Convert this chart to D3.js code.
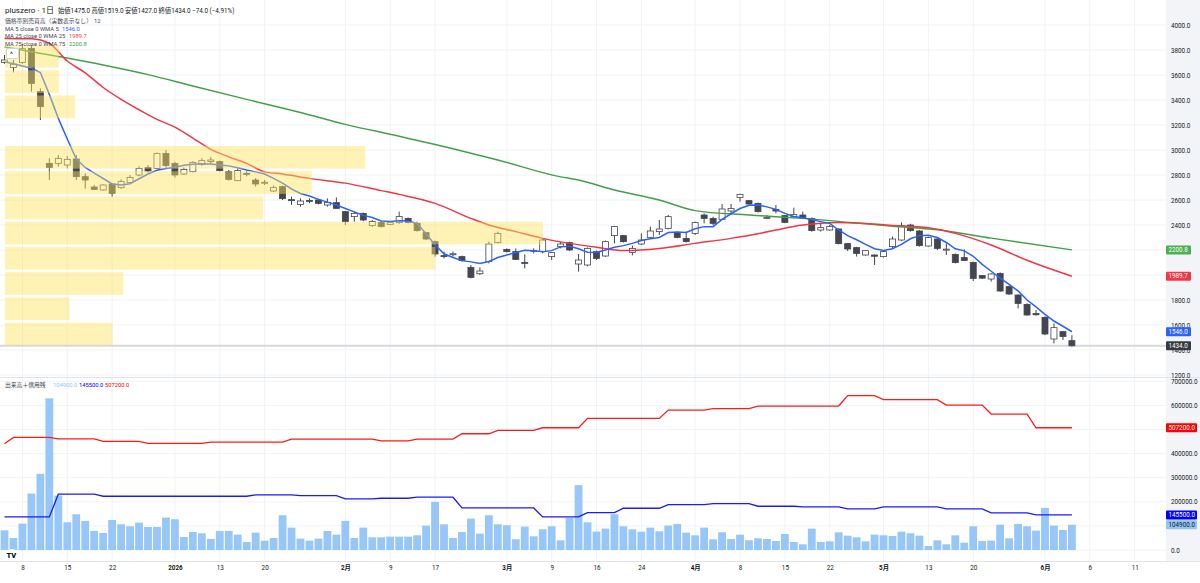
<!DOCTYPE html>
<html>
<head>
<meta charset="utf-8">
<script src="https://cdn.jsdelivr.net/npm/d3@7"></script>
<style>
  html, body { margin: 0; padding: 0; background: #fff; }
  svg { display: block; font-family: Roboto, "Noto Sans CJK JP", sans-serif; }
</style>
</head>
<body>
<div class="chart"></div>
<script>
// daily candles, Dec 4 -> Jun 4
const opens = [3700,3660,3700,3813,3467,2893,2893,2880,2928,2787,2704,2680,2728,2699,2741,2800,2859,2853,2973,2893,
  2808,2827,2885,2907,2907,2827,2755,2813,2760,2735,2672,2707,2603,2565,2597,2600,2560,2579,2507,2467,
  2493,2395,2421,2405,2419,2453,2413,2339,2267,2155,2165,2147,2061,2010,2107,2259,2205,2187,2101,2192,
  2187,2147,2227,2259,2088,2080,2187,2152,2315,2315,2181,2248,2301,2347,2373,2339,2293,2333,2480,2453,
  2445,2512,2621,2595,2573,2455,2525,2475,2467,2480,2453,2360,2360,2368,2251,2219,2160,2160,2147,2227,
  2280,2400,2352,2232,2288,2203,2165,2139,2101,1995,1968,2013,1907,1840,1765,1693,1661,1488,1547,1475];
const highs = [3760,3720,3850,3840,3493,2933,2960,2950,2960,2813,2720,2725,2735,2765,2800,2870,2880,2980,3000,2905,
  2860,2910,2935,2945,2915,2840,2850,2830,2775,2760,2715,2715,2627,2613,2613,2610,2613,2620,2510,2507,
  2500,2440,2430,2430,2507,2460,2427,2345,2275,2187,2187,2155,2080,2061,2267,2347,2213,2213,2165,2213,
  2293,2185,2265,2267,2168,2220,2195,2275,2393,2320,2235,2333,2387,2440,2480,2347,2347,2427,2493,2467,
  2568,2568,2650,2600,2580,2480,2560,2480,2539,2507,2460,2413,2400,2373,2255,2225,2200,2165,2195,2307,
  2421,2410,2360,2307,2295,2253,2173,2205,2107,2000,2013,2020,1915,1845,1773,1720,1670,1613,1553,1519];
const lows = [3690,3621,3690,3467,3240,2760,2867,2853,2760,2690,2680,2675,2627,2690,2733,2790,2820,2845,2860,2780,
  2800,2820,2875,2890,2830,2755,2750,2790,2707,2720,2665,2600,2560,2547,2575,2565,2547,2530,2400,2427,
  2430,2385,2380,2400,2410,2413,2347,2280,2147,2133,2147,2107,1973,2000,2093,2253,2180,2120,2053,2173,
  2173,2120,2213,2192,2027,2070,2120,2145,2253,2260,2157,2240,2293,2320,2365,2293,2260,2320,2413,2400,
  2440,2493,2587,2560,2500,2447,2493,2415,2453,2447,2347,2347,2355,2245,2192,2147,2155,2080,2140,2213,
  2272,2347,2227,2227,2200,2160,2093,2113,1952,1968,1947,1865,1840,1733,1675,1675,1520,1453,1480,1427];
const closes = [3720,3686,3810,3533,3347,2861,2933,2925,2787,2760,2685,2720,2653,2747,2781,2853,2832,2973,2875,2800,
  2845,2901,2915,2920,2835,2765,2835,2805,2728,2742,2699,2611,2597,2592,2593,2573,2580,2533,2427,2493,
  2440,2428,2387,2421,2467,2421,2355,2288,2168,2150,2170,2115,1981,2032,2248,2333,2187,2125,2097,2197,
  2280,2179,2248,2200,2120,2213,2133,2267,2387,2267,2213,2280,2352,2368,2467,2301,2267,2419,2453,2413,
  2528,2533,2645,2568,2507,2460,2512,2421,2485,2453,2355,2379,2389,2251,2208,2173,2195,2150,2187,2288,
  2395,2355,2235,2299,2213,2207,2099,2117,1973,1975,2008,1872,1848,1773,1680,1682,1528,1579,1508,1434];

const volumes = [81800,49900,109500,234200,316000,629200,225900,115000,148300,120600,
  79000,70700,124700,106700,98400,113700,95600,95600,134400,127500,
  54100,74800,69300,45700,79000,79000,63800,33300,72100,38800,
  49900,144100,92900,47100,38800,47100,79000,63800,120600,49900,
  92900,52700,52700,55400,55400,55400,61000,101200,199600,106700,
  49900,74800,130300,67900,144100,106700,102600,44400,97000,56800,
  85900,98400,40200,133100,268900,115000,76200,88700,148300,98400,
  85900,76200,92900,77600,101200,108100,72100,61000,92900,44400,
  73500,45700,63800,40200,48500,45700,37400,66500,33300,23600,
  88700,33300,36000,73500,59600,52700,36000,63800,61000,58200,
  76200,69300,59600,16600,40200,23600,61000,30500,98400,37400,
  38800,105300,48500,108100,98400,80400,174600,101200,83200,104900];

// WMA 5 read per bar
const wma5 = [3705,3690,3672,3655,3620,3445,3253,3088,2928,2860,2815,2772,2728,2720,2730,2770,2808,2838,2852,2862,
  2878,2886,2890,2888,2880,2873,2858,2840,2825,2808,2773,2735,2688,2652,2632,2605,2583,2560,2532,2505,
  2477,2460,2432,2428,2433,2432,2412,2330,2240,2170,2140,2115,2105,2093,2108,2140,2160,2180,2197,2195,
  2187,2195,2225,2230,2210,2182,2180,2200,2222,2235,2253,2276,2290,2300,2340,2343,2340,2370,2387,2387,
  2445,2490,2532,2558,2560,2545,2525,2493,2468,2458,2443,2427,2413,2360,2315,2282,2245,2210,2197,2210,
  2245,2290,2315,2318,2300,2260,2210,2193,2150,2085,2030,1975,1925,1873,1800,1745,1685,1632,1590,1546];
// WMA 25 / WMA 75 read at sample bars
const wma25Idx = [0,3,5,7,9,11,13,15,17,19,21,23,25,27,29,31,34,38,42,44,48,52,54,57,60,63,66,69,73,77,81,84,86,89,93,99,103,106,110,114,119];
const wma25Val = [3893,3890,3853,3712,3617,3500,3405,3322,3245,3183,3095,3005,2945,2893,2825,2808,2773,2735,2675,2645,2573,2453,2400,2347,2293,2253,2222,2196,2212,2253,2293,2330,2360,2400,2421,2397,2378,2333,2240,2118,1990];
const wma75Idx = [0,6,11,16,21,27,33,38,44,50,55,62,64,68,73,77,83,89,99,104,110,119];
const wma75Val = [3824,3748,3680,3603,3512,3405,3300,3205,3110,3010,2920,2785,2760,2680,2600,2515,2480,2453,2390,2362,2295,2201];

// margin balances (weekly steps): bar index where value starts
const creditBuyIdx = [0,1,6,11,16,23,32,42,46,51,55,60,65,74,79,84,94,98,105,110,115];
const creditBuyVal = [440700,467100,461500,450500,442100,447700,460200,453200,460200,482300,496200,507200,546100,580700,586300,597400,640300,623700,601500,564100,507200];
const creditSellIdx = [0,6,11,28,33,38,42,46,51,60,65,69,74,79,84,89,94,98,105,110,115];
const creditSellVal = [137200,231500,223100,228600,225900,212100,214800,219000,174600,137200,155200,173300,188500,192700,181600,178800,170500,178800,170500,153800,145500];

// volume profile, 12 rows from top, relative volume
const profileVol = [10,10,13,0,67,57,48,100,80,22,12,20];

// tick labels hidden under the value tags are left out
const priceTicks = [1200,1400,1600,1800,2400,2600,2800,3000,3200,3400,3600,3800,4000];
const priceGrid = d3.range(1200, 4001, 200);
const volTicks = [0,200000,300000,400000,600000,700000];
const volGrid = d3.range(0, 700001, 100000);
const timeTickIdx = [2,7,12,19,24,29,38,43,48,56,61,66,71,77,82,87,92,98,103,108,116,121,126];
const timeTickLabels = ["8","15","22","2026","13","20","2月","9","17","3月","9","16","24","4月","8","15","22","5月","13","20","6月","6","11"];
const boldTicks = ["2026","2月","3月","4月","5月","6月"];

const W = 1200, H = 583, axisX = 1166;
const fs = 6.3;
const svg = d3.select(".chart").append("svg").attr("width", W).attr("height", H);

const x = d3.scaleLinear().domain([0, 119]).range([4.5, 1071.9]);
const y = d3.scaleLinear().domain([1200, 4000]).range([375, 25]);
const yv = d3.scaleLinear().domain([0, 700000]).range([550, 381.3]);
const idx = d3.range(opens.length);

// axis background
svg.append("rect").attr("x", axisX).attr("y", 0).attr("width", W - axisX).attr("height", 561).attr("fill", "#f3f4f7");

// grid
const grid = svg.append("g").attr("stroke", "#f0f2f6").attr("stroke-width", 1);
grid.selectAll(".vg").data(timeTickIdx).join("line")
  .attr("x1", d => x(d)).attr("x2", d => x(d)).attr("y1", 0).attr("y2", 561);
grid.selectAll(".pg").data(priceGrid).join("line")
  .attr("x1", 0).attr("x2", axisX).attr("y1", d => y(d)).attr("y2", d => y(d));
grid.selectAll(".vvg").data(volGrid).join("line")
  .attr("x1", 0).attr("x2", axisX).attr("y1", d => yv(d)).attr("y2", d => yv(d));

// pane separators
svg.append("line").attr("x1", 0).attr("x2", W).attr("y1", 377.5).attr("y2", 377.5).attr("stroke", "#e0e3eb");
svg.append("line").attr("x1", 0).attr("x2", W).attr("y1", 561.5).attr("y2", 561.5).attr("stroke", "#e0e3eb");

// last price line
svg.append("line").attr("x1", 0).attr("x2", axisX).attr("y1", y(1434)).attr("y2", y(1434))
  .attr("stroke", "#d6d8de").attr("stroke-width", 2);

// candles
const cg = svg.append("g");
cg.selectAll("line").data(idx).join("line")
  .attr("x1", i => x(i)).attr("x2", i => x(i))
  .attr("y1", i => y(highs[i])).attr("y2", i => y(lows[i]))
  .attr("stroke", "#434651").attr("stroke-width", 1);
cg.selectAll("rect").data(idx).join("rect")
  .attr("x", i => x(i) - 3).attr("width", 6)
  .attr("y", i => y(Math.max(opens[i], closes[i])))
  .attr("height", i => Math.max(1, Math.abs(y(opens[i]) - y(closes[i]))))
  .attr("fill", i => closes[i] >= opens[i] ? "#ffffff" : "#434651")
  .attr("stroke", "#434651").attr("stroke-width", 0.8);

// moving averages
const lineIdx = d3.line().x(d => x(d[0])).y(d => y(d[1]));
svg.append("path").datum(d3.zip(wma75Idx, wma75Val))
  .attr("d", lineIdx.curve(d3.curveMonotoneX)).attr("fill", "none").attr("stroke", "#43a047").attr("stroke-width", 1.5);
svg.append("path").datum(d3.zip(wma25Idx, wma25Val))
  .attr("d", lineIdx.curve(d3.curveMonotoneX)).attr("fill", "none").attr("stroke", "#f23645").attr("stroke-width", 1.5);
svg.append("path").datum(idx.map(i => [i, wma5[i]]))
  .attr("d", lineIdx.curve(d3.curveLinear)).attr("fill", "none").attr("stroke", "#2962ff").attr("stroke-width", 1.5);

// volume profile rows (drawn over candles)
const vpHigh = d3.max(highs), vpLow = d3.min(lows);
const rowH = (vpHigh - vpLow) / profileVol.length;
const vpW = d3.scaleLinear().domain([0, d3.max(profileVol)]).range([0, 538]);
svg.append("g").selectAll("rect").data(profileVol).join("rect")
  .attr("x", 5)
  .attr("y", (d, k) => y(vpHigh - k * rowH) + 1.3)
  .attr("width", d => vpW(d))
  .attr("height", (d, k) => y(vpHigh - (k + 1) * rowH) - y(vpHigh - k * rowH) - 2.6)
  .attr("fill", "rgba(255,226,90,0.45)");

// volume bars
svg.append("g").selectAll("rect").data(idx).join("rect")
  .attr("x", i => x(i) - 3.9).attr("width", 7.8)
  .attr("y", i => yv(volumes[i])).attr("height", i => 550 - yv(volumes[i]))
  .attr("fill", "#97c6f8");

// margin lines
const stepSeries = (starts, vals) => idx.map(i => [i, vals[d3.bisectRight(starts, i) - 1]]);
const lineV = d3.line().x(d => x(d[0])).y(d => yv(d[1]));
svg.append("path").datum(stepSeries(creditBuyIdx, creditBuyVal))
  .attr("d", lineV).attr("fill", "none").attr("stroke", "#ff1a1a").attr("stroke-width", 1.3);
svg.append("path").datum(stepSeries(creditSellIdx, creditSellVal))
  .attr("d", lineV).attr("fill", "none").attr("stroke", "#1a1aff").attr("stroke-width", 1.3);

// axes
const styleAxis = g => {
  g.select(".domain").remove();
  g.selectAll("text").attr("font-size", fs).attr("fill", "#131722").attr("font-family", 'Roboto, "Noto Sans CJK JP", sans-serif');
};
svg.append("g").attr("transform", `translate(${axisX},0)`)
  .call(d3.axisRight(y).tickValues(priceTicks).tickFormat(d3.format(".1f")).tickSize(0).tickPadding(5))
  .call(styleAxis);
svg.append("g").attr("transform", `translate(${axisX},0)`)
  .call(d3.axisRight(yv).tickValues(volTicks).tickFormat(d3.format(".1f")).tickSize(0).tickPadding(5))
  .call(styleAxis);
const tAxis = svg.append("g").attr("transform", "translate(0,566)")
  .call(d3.axisBottom(x).tickValues(timeTickIdx).tickFormat((d, k) => timeTickLabels[k]).tickSize(0).tickPadding(0))
  .call(styleAxis);
tAxis.selectAll("text").attr("font-weight", (d, k) => boldTicks.includes(timeTickLabels[k]) ? 700 : 400);

// value tags on the axis
function tag(yPos, text, bg, fg, w) {
  svg.append("rect").attr("x", axisX).attr("y", yPos - 4.5).attr("width", w).attr("height", 9).attr("fill", bg).attr("rx", 1);
  svg.append("text").attr("x", axisX + 2.5).attr("y", yPos).attr("dy", "0.35em")
    .attr("font-size", fs).attr("fill", fg).text(text);
}
tag(y(2200.8), "2200.8", "#4caf50", "#fff", 25);
tag(y(1989.7), "1989.7", "#f23645", "#fff", 25);
tag(y(1546.0), "1546.0", "#2962ff", "#fff", 25);
tag(y(1434.0), "1434.0", "#363a45", "#fff", 25);
tag(yv(507200), "507200.0", "#ff0000", "#fff", 31);
tag(yv(145500), "145500.0", "#0000ff", "#fff", 31);
tag(yv(104900), "104900.0", "#90c5f9", "#131722", 31);

// legends
const txt = (xx, yy, s, color, size, weight) => svg.append("text").attr("x", xx).attr("y", yy)
  .attr("font-size", size || fs).attr("fill", color || "#131722").attr("font-weight", weight || 400).text(s);
txt(5, 13, "pluszero · 1日", "#131722", 8);
txt(58, 12.5, "始値1475.0  高値1519.0  安値1427.0  終値1434.0  −74.0 (−4.91%)", "#131722");
txt(5, 22.5, "価格帯別売買高（実数表示なし）", "#434651", 5.8);
txt(94, 22.5, "12", "#434651", 5.8);
txt(5, 30.5, "MA 5 close 0 WMA 5", "#434651", 5.8);
txt(62, 30.5, "1546.0", "#2962ff", 5.8);
txt(5, 38.3, "MA 25 close 0 WMA 25", "#434651", 5.8);
txt(69, 38.3, "1989.7", "#f23645", 5.8);
txt(5, 46, "MA 75 close 0 WMA 75", "#434651", 5.8);
txt(69, 46, "2200.8", "#43a047", 5.8);

txt(5, 387, "出来高＋信用残", "#434651", 5.8);
txt(53, 387, "104900.0", "#90c5f9", 5.8);
txt(79, 387, "145500.0", "#0000ff", 5.8);
txt(105, 387, "507200.0", "#ff0000", 5.8);

// collapse button
svg.append("rect").attr("x", 6.5).attr("y", 48.5).attr("width", 12).attr("height", 10).attr("rx", 2)
  .attr("fill", "#fff").attr("stroke", "#d1d4dc");
txt(10, 57, "^", "#131722", 7);

// logo
svg.append("circle").attr("cx", 12).attr("cy", 555).attr("r", 6).attr("fill", "#fff");
txt(6.5, 558, "TV", "#131722", 7.5, 900);
</script>
</body>
</html>
